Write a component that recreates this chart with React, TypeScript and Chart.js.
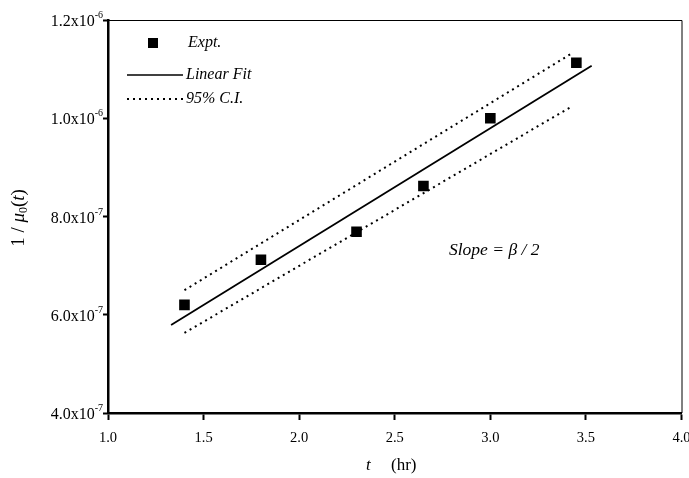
import React, { useEffect, useRef } from "react";
import { Chart, registerables } from "chart.js";

Chart.register(...registerables);

// ---- data ----
const exptT = [1.4, 1.8, 2.3, 2.65, 3.0, 3.45];
const exptInvMu = [6.2e-7, 7.12e-7, 7.69e-7, 8.62e-7, 1.0e-6, 1.113e-6];

const fitT = [1.33, 3.53];
const fitInvMu = [5.79e-7, 1.107e-6];

const ciT = [1.4, 3.43];
const ciUpper = [6.5e-7, 1.133e-6];
const ciLower = [5.63e-7, 1.025e-6];

const xTickValues = [1.0, 1.5, 2.0, 2.5, 3.0, 3.5, 4.0];
const yTickValues = [4e-7, 6e-7, 8e-7, 1.0e-6, 1.2e-6];
const yTickBase = ["4.0x10", "6.0x10", "8.0x10", "1.0x10", "1.2x10"];
const yTickExp = ["-7", "-7", "-7", "-6", "-6"];

const legendLabels = ["Expt.", "Linear Fit", "95% C.I."];
const slopeText = "Slope = \u03B2 / 2";

const SERIF = '"Liberation Serif", "Times New Roman", serif';

const pts = (xs: number[], ys: number[]) => xs.map((x, i) => ({ x, y: ys[i] }));

const decorPlugin = {
  id: "decor",
  afterDraw(chart: any) {
    const ctx = chart.ctx as CanvasRenderingContext2D;
    const area = chart.chartArea;
    const ys = chart.scales.y;
    ctx.save();

    // thin top / right frame
    ctx.strokeStyle = "#000";
    ctx.lineWidth = 1;
    ctx.beginPath();
    ctx.moveTo(area.left, area.top + 0.5);
    ctx.lineTo(area.right + 0.5, area.top + 0.5);
    ctx.lineTo(area.right + 0.5, area.bottom);
    ctx.stroke();

    // y tick labels with superscripts
    ctx.fillStyle = "#000";
    ctx.textBaseline = "alphabetic";
    ctx.textAlign = "left";
    yTickValues.forEach((v, i) => {
      const py = ys.getPixelForValue(v);
      ctx.font = `16px ${SERIF}`;
      const bw = ctx.measureText(yTickBase[i]).width;
      ctx.font = `10px ${SERIF}`;
      const ew = ctx.measureText(yTickExp[i]).width;
      const right = area.left - 5;
      const x0 = right - bw - ew;
      ctx.font = `16px ${SERIF}`;
      ctx.fillText(yTickBase[i], x0, py + 6);
      ctx.font = `10px ${SERIF}`;
      ctx.fillText(yTickExp[i], x0 + bw, py - 2);
    });

    // x axis title: t (hr)
    ctx.textBaseline = "middle";
    ctx.font = `italic 17px ${SERIF}`;
    ctx.fillText("t", 366, 466);
    ctx.font = `17px ${SERIF}`;
    ctx.fillText("(hr)", 391, 466);

    // y axis title: 1 / mu_0(t), rotated
    ctx.save();
    ctx.translate(19, 218);
    ctx.rotate(-Math.PI / 2);
    const parts: { t: string; f: string; dy: number }[] = [
      { t: "1 / ", f: `19px ${SERIF}`, dy: 0 },
      { t: "\u03BC", f: `italic 19px ${SERIF}`, dy: 0 },
      { t: "0", f: `12px ${SERIF}`, dy: 5 },
      { t: "(", f: `19px ${SERIF}`, dy: 0 },
      { t: "t", f: `italic 19px ${SERIF}`, dy: 0 },
      { t: ")", f: `19px ${SERIF}`, dy: 0 },
    ];
    let total = 0;
    parts.forEach((p) => {
      ctx.font = p.f;
      total += ctx.measureText(p.t).width;
    });
    let cx = -total / 2;
    ctx.textBaseline = "middle";
    parts.forEach((p) => {
      ctx.font = p.f;
      ctx.fillText(p.t, cx, p.dy);
      cx += ctx.measureText(p.t).width;
    });
    ctx.restore();

    // legend
    ctx.fillStyle = "#000";
    ctx.fillRect(148, 38, 10, 10);
    ctx.font = `italic 16px ${SERIF}`;
    ctx.textBaseline = "middle";
    ctx.fillText(legendLabels[0], 188, 43);

    ctx.lineWidth = 1.6;
    ctx.beginPath();
    ctx.moveTo(127, 75);
    ctx.lineTo(183, 75);
    ctx.stroke();
    ctx.fillText(legendLabels[1], 186, 75);

    ctx.lineWidth = 2;
    ctx.setLineDash([2, 4]);
    ctx.beginPath();
    ctx.moveTo(127, 99);
    ctx.lineTo(183, 99);
    ctx.stroke();
    ctx.setLineDash([]);
    ctx.fillText(legendLabels[2], 186, 99);

    // slope annotation
    ctx.font = `italic 17.5px ${SERIF}`;
    ctx.fillText(slopeText, 449, 250);

    ctx.restore();
  },
};

export default function App() {
  const ref = useRef<HTMLCanvasElement | null>(null);

  useEffect(() => {
    if (!ref.current) return;
    const chart = new Chart(ref.current, {
      type: "scatter",
      data: {
        datasets: [
          {
            label: legendLabels[2] + " upper",
            data: pts(ciT, ciUpper),
            showLine: true,
            borderColor: "#000",
            borderWidth: 2,
            borderDash: [2, 4],
            pointRadius: 0,
          },
          {
            label: legendLabels[2] + " lower",
            data: pts(ciT, ciLower),
            showLine: true,
            borderColor: "#000",
            borderWidth: 2,
            borderDash: [2, 4],
            pointRadius: 0,
          },
          {
            label: legendLabels[1],
            data: pts(fitT, fitInvMu),
            showLine: true,
            borderColor: "#000",
            borderWidth: 1.8,
            pointRadius: 0,
          },
          {
            label: legendLabels[0],
            data: pts(exptT, exptInvMu),
            showLine: false,
            pointStyle: "rect",
            pointRadius: 7.5,
            backgroundColor: "#000",
            borderColor: "#000",
            borderWidth: 0,
          },
        ],
      },
      options: {
        animation: false,
        responsive: false,
        devicePixelRatio: 1,
        layout: { padding: { top: 20, right: 7, left: 0, bottom: 0 } },
        plugins: { legend: { display: false }, tooltip: { enabled: false } },
        scales: {
          x: {
            type: "linear",
            min: 1,
            max: 4,
            afterBuildTicks: (s: any) => {
              s.ticks = xTickValues.map((v) => ({ value: v }));
            },
            ticks: {
              color: "#000",
              font: { family: SERIF, size: 14.5 },
              padding: 9,
              maxRotation: 0,
              callback: (v: any) => Number(v).toFixed(1),
            },
            grid: {
              drawOnChartArea: false,
              drawTicks: true,
              tickLength: 7,
              tickWidth: 2,
              color: "#000",
            },
            border: { display: true, color: "#000", width: 2.5 },
            afterFit: (s: any) => {
              s.height = 65;
              s.paddingLeft = 0;
              s.paddingRight = 0;
            },
          } as any,
          y: {
            type: "linear",
            min: 4e-7,
            max: 1.2e-6,
            afterBuildTicks: (s: any) => {
              s.ticks = yTickValues.map((v) => ({ value: v }));
            },
            ticks: { display: false },
            grid: {
              drawOnChartArea: false,
              drawTicks: true,
              tickLength: 5,
              tickWidth: 2,
              color: "#000",
            },
            border: { display: true, color: "#000", width: 2.5 },
            afterFit: (s: any) => {
              s.width = 108;
              s.paddingTop = 0;
              s.paddingBottom = 0;
            },
          } as any,
        },
      },
      plugins: [decorPlugin],
    });
    return () => chart.destroy();
  }, []);

  return (
    <div style={{ position: "absolute", left: 0, top: 0, width: 689, height: 478, background: "#fff" }}>
      <canvas ref={ref} width={689} height={478} style={{ display: "block" }} />
    </div>
  );
}
